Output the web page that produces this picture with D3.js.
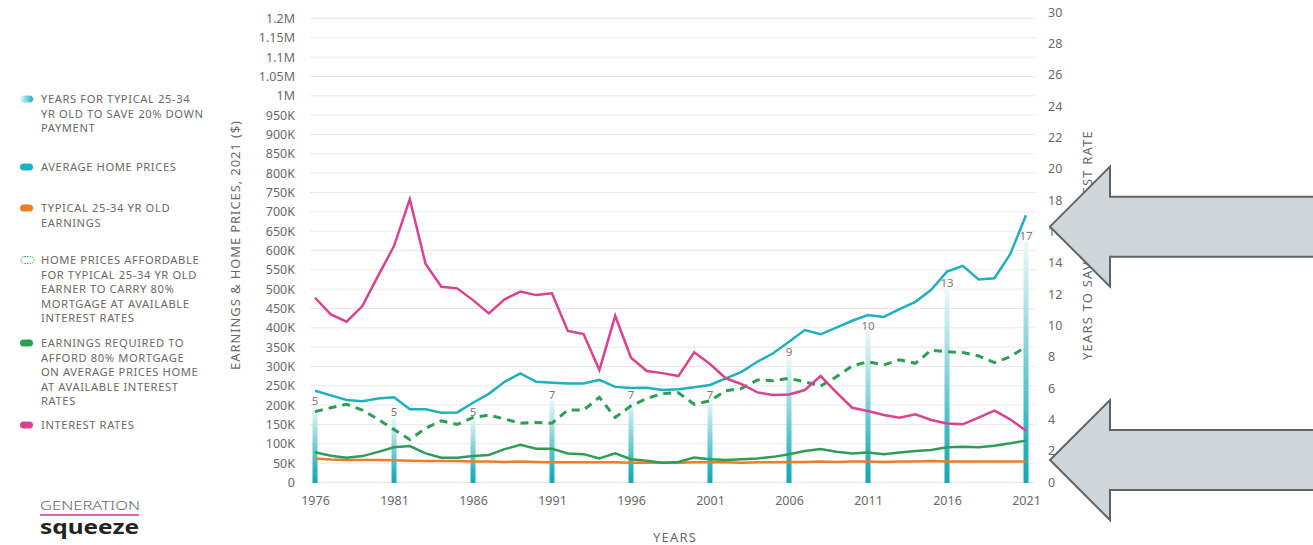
<!DOCTYPE html>
<html>
<head>
<meta charset="utf-8">
<script src="https://cdn.jsdelivr.net/npm/d3@7"></script>
<style>
  html, body { margin: 0; padding: 0; background: #fff; }
  svg { display: block; font-family: "Noto Sans", "Open Sans", sans-serif; }
</style>
</head>
<body>
<svg id="chart" width="1313" height="545"></svg>
<script>
// ---------- DATA ----------
const years = d3.range(1976, 2022);
const homePrices = [236,224,212,209,216,219,188,188,179,180,205,228,259,281,259,257,255,255,264,246,243,244,
  238,240,245,251,268,285,311,333,363,393,382,399,417,432,427,447,466,497,544,559,524,527,589,690].map(v => v*1000);
const earnings = [61,58,57,57,57,56,55,54,54,54,53,53,52,53,52,51,51,51,51,51,50,50,
  50,50,51,51,51,50,51,51,52,52,53,52,53,53,52,53,53,54,53,53,53,53,53,53].map(v => v*1000);
const affordablePrices = [182,192,201,186,162,136,110,139,158,149,167,173,163,152,154,152,186,186,219,167,197,216,
  229,231,201,210,236,242,264,262,268,259,248,272,300,311,303,316,307,341,337,335,326,309,324,350].map(v => v*1000);
const requiredEarnings = [77,68,63,67,78,90,93,74,63,63,67,70,85,96,86,86,74,72,61,74,59,55,
  50,52,63,59,57,59,61,65,72,80,85,78,74,76,72,76,80,83,90,91,90,94,100,107].map(v => v*1000);
const interestRates = [11.76,10.70,10.23,11.23,13.17,15.06,18.05,13.91,12.46,12.36,11.61,10.76,11.66,12.15,11.93,12.04,
  9.64,9.44,7.15,10.61,7.93,7.08,6.95,6.76,8.28,7.53,6.62,6.25,5.72,5.55,5.59,5.87,6.76,5.72,4.74,4.53,4.28,4.11,4.32,
  3.96,3.74,3.68,4.11,4.55,4.00,3.27];
const barYears = [1976,1981,1986,1991,1996,2001,2006,2011,2016,2021];
const yearsToSave = [4.8,4.1,4.1,5.2,5.2,5.2,7.9,9.6,12.3,15.3];
const yearsToSaveLabels = ["5","5","5","7","7","7","9","10","13","17"];
const leftTicks = d3.range(0, 1200001, 50000);
const leftTickLabels = ["0","50K","100K","150K","200K","250K","300K","350K","400K","450K","500K","550K","600K",
  "650K","700K","750K","800K","850K","900K","950K","1M","1.05M","1.1M","1.15M","1.2M"];
const rightTicks = d3.range(0, 31, 2);
const xTicks = [1976,1981,1986,1991,1996,2001,2006,2011,2016,2021];
const legendItems = [
  {key:"save", lines:["YEARS FOR TYPICAL 25-34","YR OLD TO SAVE 20% DOWN","PAYMENT"]},
  {key:"home", lines:["AVERAGE HOME PRICES"]},
  {key:"earn", lines:["TYPICAL 25-34 YR OLD","EARNINGS"]},
  {key:"afford", lines:["HOME PRICES AFFORDABLE","FOR TYPICAL 25-34 YR OLD","EARNER TO CARRY 80%","MORTGAGE AT AVAILABLE","INTEREST RATES"]},
  {key:"req", lines:["EARNINGS REQUIRED TO","AFFORD 80% MORTGAGE","ON AVERAGE PRICES HOME","AT AVAILABLE INTEREST","RATES"]},
  {key:"rate", lines:["INTEREST RATES"]}
];
const arrowTargets = [16.3, 1.4]; // right-axis values the annotation arrows point at

// ---------- STYLE ----------
const C = { teal:"#1fb0bd", orange:"#ee7d2a", green:"#2f9d56", pink:"#d8438f", grid:"#e8e8e8", text:"#6a6a6a" };

const svg = d3.select("#chart");
const x = d3.scaleLinear().domain([1976, 2021]).range([315, 1026]);
const yL = d3.scaleLinear().domain([0, 1200000]).range([482, 18]);
const yR = d3.scaleLinear().domain([0, 30]).range([482, 12]);

const defs = svg.append("defs");
const bg = defs.append("linearGradient").attr("id","barGrad").attr("x1",0).attr("y1",1).attr("x2",0).attr("y2",0);
bg.append("stop").attr("offset","0%").attr("stop-color","#13a6b3");
bg.append("stop").attr("offset","18%").attr("stop-color","#2ab3bf");
bg.append("stop").attr("offset","60%").attr("stop-color","#8fd6dc");
bg.append("stop").attr("offset","100%").attr("stop-color","#eaf8f9");
const lg = defs.append("linearGradient").attr("id","legGrad").attr("x1",0).attr("y1",0).attr("x2",1).attr("y2",0);
lg.append("stop").attr("offset","0%").attr("stop-color","#eef9fa");
lg.append("stop").attr("offset","100%").attr("stop-color","#1fb0bd");

// gridlines
svg.append("g").selectAll("line").data(leftTicks).join("line")
  .attr("x1", 310).attr("x2", 1035)
  .attr("y1", d => yL(d) + 0.5).attr("y2", d => yL(d) + 0.5)
  .attr("stroke", C.grid).attr("stroke-width", 1);

// left axis
const leftAxis = d3.axisLeft(yL).tickValues(leftTicks).tickSize(0).tickPadding(0)
  .tickFormat((d, i) => leftTickLabels[i]);
const gL = svg.append("g").attr("transform", "translate(295,0)").call(leftAxis);
gL.select(".domain").remove();
gL.selectAll("text").attr("fill", C.text).style("font-size", "12.5px").style("font-family", "Noto Sans").attr("dy","0.35em");

// right axis
const rightAxis = d3.axisRight(yR).tickValues(rightTicks).tickSize(0).tickPadding(0);
const gR = svg.append("g").attr("transform", "translate(1048,0)").call(rightAxis);
gR.select(".domain").remove();
gR.selectAll("text").attr("fill", C.text).style("font-size", "12.5px").style("font-family", "Noto Sans");

// bottom axis
const bottomAxis = d3.axisBottom(x).tickValues(xTicks).tickSize(0).tickPadding(0).tickFormat(d3.format("d"));
const gB = svg.append("g").attr("transform", "translate(0,496)").call(bottomAxis);
gB.select(".domain").remove();
gB.selectAll("text").attr("fill", C.text).style("font-size", "12.5px").style("font-family", "Noto Sans");

// axis titles
svg.append("text").attr("transform", "translate(240,245) rotate(-90)").attr("text-anchor","middle")
  .attr("fill", C.text).style("font-size","13px").style("letter-spacing","0.9px").text("EARNINGS & HOME PRICES, 2021 ($)");
svg.append("text").attr("transform", "translate(1092,245) rotate(-90)").attr("text-anchor","middle")
  .attr("fill", C.text).style("font-size","13px").style("letter-spacing","1.2px").text("YEARS TO SAVE / INTEREST RATE");
svg.append("text").attr("x", 675).attr("y", 542).attr("text-anchor","middle")
  .attr("fill", C.text).style("font-size","13px").style("letter-spacing","1.2px").text("YEARS");

// bars
svg.append("g").selectAll("rect").data(barYears).join("rect")
  .attr("x", d => x(d) - 2.5).attr("width", 5)
  .attr("y", (d,i) => yR(yearsToSave[i])).attr("height", (d,i) => yR(0) - yR(yearsToSave[i]) + 1)
  .attr("fill", "url(#barGrad)");
svg.append("g").selectAll("text").data(barYears).join("text")
  .attr("x", d => x(d)).attr("y", (d,i) => yR(yearsToSave[i]) - 2)
  .attr("text-anchor","middle").attr("fill","#7a7a7a").style("font-size","11.5px")
  .text((d,i) => yearsToSaveLabels[i]);

// lines
const lineL = arr => d3.line().x((d,i) => x(years[i])).y(d => yL(d))(arr);
const lineR = arr => d3.line().x((d,i) => x(years[i])).y(d => yR(d))(arr);
svg.append("path").attr("d", lineL(earnings)).attr("fill","none").attr("stroke",C.orange).attr("stroke-width",2.5);
svg.append("path").attr("d", lineL(requiredEarnings)).attr("fill","none").attr("stroke",C.green).attr("stroke-width",2.5);
svg.append("path").attr("d", lineL(affordablePrices)).attr("fill","none").attr("stroke",C.green).attr("stroke-width",3)
  .attr("stroke-dasharray","8,6");
svg.append("path").attr("d", lineL(homePrices)).attr("fill","none").attr("stroke",C.teal).attr("stroke-width",2.5);
svg.append("path").attr("d", lineR(interestRates)).attr("fill","none").attr("stroke",C.pink).attr("stroke-width",2.5);

// legend
const legY = [99, 167, 208, 260, 343, 425];
const lgG = svg.append("g");
legendItems.forEach((it, k) => {
  const y0 = legY[k];
  const g = lgG.append("g");
  if (it.key === "afford") {
    g.append("rect").attr("x", 21).attr("y", y0 - 3.5).attr("width", 13).attr("height", 7).attr("rx", 3.5)
      .attr("fill","none").attr("stroke", C.green).attr("stroke-width",1).attr("stroke-dasharray","1.5,1.2");
  } else {
    const fill = {save:"url(#legGrad)", home:C.teal, earn:C.orange, req:C.green, rate:C.pink}[it.key];
    g.append("rect").attr("x", 20).attr("y", y0 - 3.5).attr("width", 13).attr("height", 7).attr("rx", 3.5).attr("fill", fill);
  }
  it.lines.forEach((ln, j) => {
    g.append("text").attr("x", 41).attr("y", y0 + j*14.6).attr("dy","0.35em")
      .attr("fill", C.text).style("font-size","11.2px").style("letter-spacing","0.6px").text(ln);
  });
});

// logo
svg.append("text").attr("x", 40).attr("y", 510).attr("textLength", 100).attr("lengthAdjust","spacingAndGlyphs")
  .attr("fill","#666").style("font-size","13px").style("font-weight","300").text("GENERATION");
svg.append("line").attr("x1",40).attr("x2",139).attr("y1",515).attr("y2",515).attr("stroke","#d96aa5").attr("stroke-width",2);
svg.append("text").attr("x", 40).attr("y", 534).attr("textLength", 99).attr("lengthAdjust","spacingAndGlyphs")
  .attr("fill","#222").style("font-size","20px").style("font-weight","700").text("squeeze");

// annotation arrows
const arrowPath = ty => {
  const tipX = 1050, headX = 1110, endX = 1320, hh = 60, sh = 30;
  return `M${tipX},${ty} L${headX},${ty-hh} L${headX},${ty-sh} L${endX},${ty-sh} L${endX},${ty+sh} L${headX},${ty+sh} L${headX},${ty+hh} Z`;
};
svg.append("g").selectAll("path").data(arrowTargets).join("path")
  .attr("d", d => arrowPath(yR(d)))
  .attr("fill", "#cfd6da").attr("stroke", "#5b6569").attr("stroke-width", 2).attr("stroke-linejoin","miter");
</script>
</body>
</html>
